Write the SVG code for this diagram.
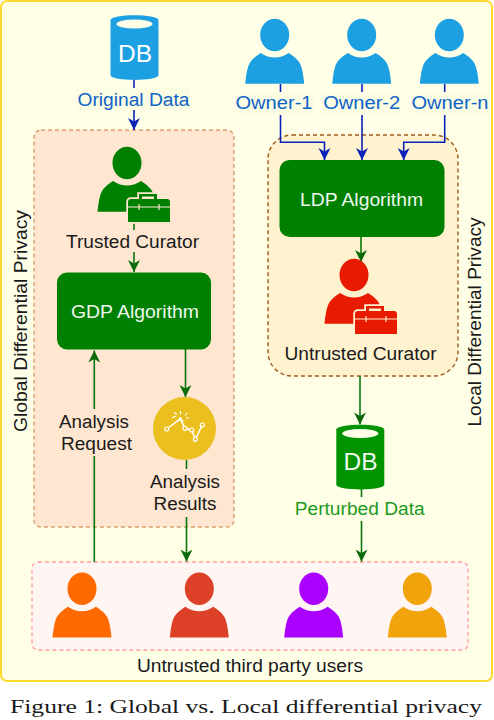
<svg xmlns="http://www.w3.org/2000/svg" width="494" height="720" viewBox="0 0 494 720">
<style>
text{font-family:"Liberation Sans",Arial,sans-serif;font-size:18px;text-anchor:middle;fill:#1a1a1a}
.blue{fill:#0f62c8}
.wht{fill:#eef8ee}
.db{fill:#fff;font-size:23px}
.ln{fill:none;stroke-width:1.6}
.b{stroke:#0a22b8;marker-end:url(#ab)}
.g{stroke:#0b760b;marker-end:url(#ag)}
.lb{fill:#fbfde2}
.gb{fill:#ffe6d0}
</style>
<defs>
<marker id="ab" markerUnits="userSpaceOnUse" markerWidth="14" markerHeight="14" refX="12" refY="6.5" orient="auto"><path d="M12,6.5 L0,0.5 L3.5,6.5 L0,12.5Z" fill="#0a22b8"/></marker>
<marker id="ag" markerUnits="userSpaceOnUse" markerWidth="14" markerHeight="14" refX="12" refY="6.5" orient="auto"><path d="M12,6.5 L0,0.5 L3.5,6.5 L0,12.5Z" fill="#0b6b0b"/></marker>
<g id="person"><ellipse cx="0" cy="0" rx="14.5" ry="16.3"/><path d="M-29.5,48.7 Q-28,33 -25,28 Q-22,23 -14,18 Q0,27 14,18 Q22,23 25,28 Q28,33 29.5,48.7Z"/></g>
<g id="case"><path d="M0,3 Q0,0 3,0 H11 V-5 H29 V0 H39 Q42,0 42,3 V23 H0Z" stroke="var(--bg)" stroke-width="3.5" paint-order="stroke"/><path d="M14,0 V-2.5 H26 V0" fill="var(--bg)"/><path d="M0,8 H42 M11,5 V11 M31,5 V11" stroke="var(--bg)" stroke-width="1.2" fill="none"/></g>
<g id="dbshape"><path d="M0,5 C0,-1.5 48,-1.5 48,5 V60 C48,66.5 0,66.5 0,60Z"/><ellipse cx="24" cy="9" rx="18" ry="4.5" fill="#fdfde8"/></g>
</defs>
<rect id="background" x="1" y="1" width="491" height="680" rx="6" fill="#ffffe8" stroke="#ffd92e" stroke-width="2"/>
<g id="group-gdp"><rect x="34" y="130" width="200" height="397" rx="7" fill="#ffe6d0" stroke="#d9a06b" stroke-width="1.4" stroke-dasharray="4 3"/></g>
<g id="group-ldp"><rect x="268" y="135" width="190" height="241" rx="24" fill="#fff2cf" stroke="#a0591e" stroke-width="1.4" stroke-dasharray="4 3"/></g>
<g id="group-users"><rect x="32" y="562" width="436" height="88" rx="6" fill="#fff5f3" stroke="#ff9c9c" stroke-width="1.3" stroke-dasharray="4 3"/></g>
<g id="connectors">
<path class="ln b" d="M134,80 V130"/>
<path class="ln b" d="M280.5,84 V142.3 H324.5 V160"/>
<path class="ln b" d="M362,84 V160"/>
<path class="ln b" d="M444.7,84 V142.3 H403.7 V160"/>
<path class="ln g" d="M134,220 V272"/>
<path class="ln g" d="M361,237 V262"/>
<path class="ln g" d="M360,376 V424.5"/>
<path class="ln g" d="M361.5,489 V561.5"/>
<path class="ln g" d="M94.3,562 V350.5"/>
<path class="ln g" d="M185.5,349 V397"/>
<path class="ln g" d="M186.5,460 V561.5"/>
</g>
<g id="db-original"><use href="#dbshape" x="110.5" y="15" fill="#1ca0e2"/><text class="db" x="135" y="61.5" textLength="34" lengthAdjust="spacingAndGlyphs">DB</text></g>
<g id="label-original"><rect class="lb" x="77" y="88" width="113" height="22"/><text class="blue" x="133.5" y="106" textLength="112" lengthAdjust="spacingAndGlyphs">Original Data</text></g>
<g id="owner-1"><use href="#person" x="274.7" y="35" fill="#1ca0e2"/><rect class="lb" x="235" y="92" width="79" height="23"/><text class="blue" x="274" y="109" textLength="77" lengthAdjust="spacingAndGlyphs">Owner-1</text></g>
<g id="owner-2"><use href="#person" x="361.7" y="35" fill="#1ca0e2"/><rect class="lb" x="322" y="92" width="79" height="23"/><text class="blue" x="361.7" y="109" textLength="77" lengthAdjust="spacingAndGlyphs">Owner-2</text></g>
<g id="owner-n"><use href="#person" x="449.3" y="35" fill="#1ca0e2"/><rect class="lb" x="411" y="92" width="78" height="23"/><text class="blue" x="450" y="109" textLength="77" lengthAdjust="spacingAndGlyphs">Owner-n</text></g>
<g id="trusted-curator"><use href="#person" x="127" y="163" fill="#008000"/><use href="#case" x="128" y="199" fill="#008000" style="--bg:#ffe6d0"/><rect class="gb" x="64" y="230" width="137" height="22"/><text x="132.5" y="248" textLength="133" lengthAdjust="spacingAndGlyphs">Trusted Curator</text></g>
<g id="gdp-algorithm"><rect x="57" y="272.5" width="154" height="77" rx="10" fill="#008000"/><text class="wht" x="135" y="318" textLength="128" lengthAdjust="spacingAndGlyphs">GDP Algorithm</text></g>
<g id="ldp-algorithm"><rect x="279.5" y="160" width="165" height="77" rx="10" fill="#008000"/><text class="wht" x="361.5" y="205.5" textLength="123" lengthAdjust="spacingAndGlyphs">LDP Algorithm</text></g>
<g id="untrusted-curator"><use href="#person" x="354" y="275" fill="#e81a00"/><use href="#case" x="355" y="311" fill="#e81a00" style="--bg:#fff2cf"/><text x="360.5" y="360" textLength="152" lengthAdjust="spacingAndGlyphs">Untrusted Curator</text></g>
<g id="analysis-request"><rect class="gb" x="56" y="409" width="80" height="47"/><text x="94" y="427.5" textLength="70" lengthAdjust="spacingAndGlyphs">Analysis</text><text x="96.5" y="450" textLength="71" lengthAdjust="spacingAndGlyphs">Request</text></g>
<g id="analysis-results"><circle cx="184.5" cy="428.5" r="31.5" fill="#ebbf1e"/>
<path d="M166.7,429 L180.3,419 L185,428.3 L191.7,430 L195.3,439.3 L202.3,425" fill="none" stroke="#fff" stroke-width="1.5"/>
<path d="M180.3,419 l-3,3 l3,-5 l3,5Z" fill="#fff" stroke="#fff"/>
<path d="M172,418 L176,416 M174,412.5 L177,414.5 M180.5,411 V414.5 M187,413 L185,415.5 M189,418 H186" stroke="#fff" stroke-width="1.2" fill="none"/>
<g fill="#ebbf1e" stroke="#fff" stroke-width="1.2"><circle cx="166.7" cy="429" r="2"/><circle cx="185" cy="428.3" r="2"/><circle cx="191.7" cy="430" r="2"/><circle cx="195.3" cy="439.3" r="2"/><circle cx="202.3" cy="425" r="2"/></g>
<rect class="gb" x="148" y="469" width="74" height="48"/><text x="185" y="487.5" textLength="70" lengthAdjust="spacingAndGlyphs">Analysis</text><text x="185" y="510" textLength="63" lengthAdjust="spacingAndGlyphs">Results</text></g>
<g id="db-perturbed"><use href="#dbshape" x="336.3" y="424.5" fill="#009400"/><text class="db" x="360.5" y="470" textLength="34" lengthAdjust="spacingAndGlyphs" style="fill:#eef8ee">DB</text></g>
<g id="label-perturbed"><rect x="293" y="497" width="134" height="24" fill="#ffffe8"/><text x="359.7" y="515" textLength="130" lengthAdjust="spacingAndGlyphs" style="fill:#1d9a1d">Perturbed Data</text></g>
<g id="user-1"><use href="#person" x="82" y="588.7" fill="#ff6a00"/></g>
<g id="user-2"><use href="#person" x="199.3" y="588.7" fill="#dc4128"/></g>
<g id="user-3"><use href="#person" x="313.7" y="588.7" fill="#aa00ff"/></g>
<g id="user-4"><use href="#person" x="417.3" y="588.7" fill="#f0a30a"/></g>
<text x="250" y="671.5" textLength="226" lengthAdjust="spacingAndGlyphs">Untrusted third party users</text>
<text transform="translate(26.5 321) rotate(-90)" textLength="222" lengthAdjust="spacingAndGlyphs">Global Differential Privacy</text>
<text transform="translate(481 322) rotate(-90)" textLength="209" lengthAdjust="spacingAndGlyphs">Local Differential Privacy</text>
<text x="246" y="713" textLength="472" lengthAdjust="spacingAndGlyphs" style="font-family:'Liberation Serif','Times New Roman',serif;font-size:19.5px">Figure 1: Global vs. Local differential privacy</text>
</svg>
